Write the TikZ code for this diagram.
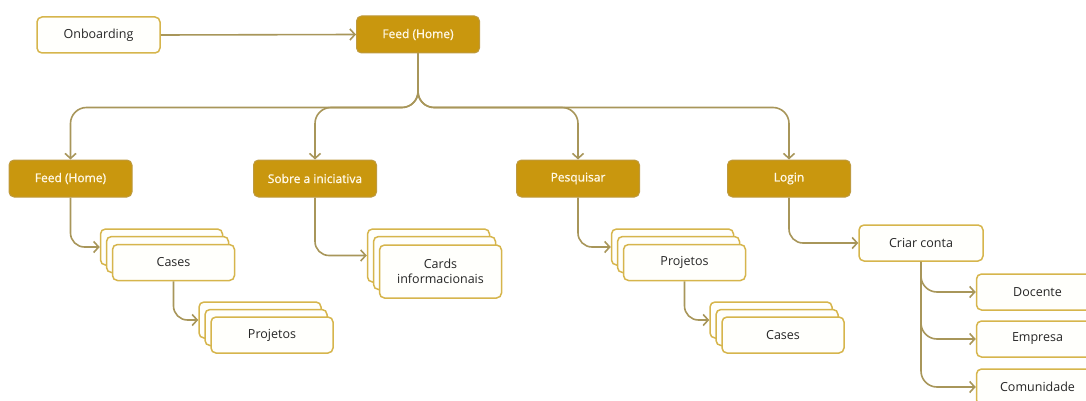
\documentclass[tikz,border=0pt]{standalone}
\usepackage{fontspec}
\setmainfont{Open Sans}
\newfontfamily\medfont{Open Sans}[FakeBold=1]
\usetikzlibrary{arrows.meta}

\definecolor{gold}{HTML}{C9970E}
\definecolor{goldedge}{HTML}{BE9A3E}
\definecolor{cardedge}{HTML}{D6B54C}
\definecolor{cardfill}{HTML}{FFFFFC}
\definecolor{wire}{HTML}{A8965A}
\definecolor{ink}{HTML}{262626}
\definecolor{paleink}{HTML}{FFF8E6}

\begin{document}
\begin{tikzpicture}[x=1pt,y=-1pt,
  solidbox/.style={draw=goldedge, line width=1pt, fill=gold, rounded corners=5pt,
    minimum width=123pt, minimum height=37pt, inner sep=0pt,
    text=paleink, font=\medfont\fontsize{12}{14}\selectfont},
  card/.style={draw=cardedge, line width=1.5pt, fill=cardfill, rounded corners=5pt,
    minimum width=122pt, minimum height=36pt, inner sep=0pt, align=center,
    text=ink, font=\fontsize{12.5}{15}\selectfont},
  tallcard/.style={card, minimum height=53pt},
  link/.style={draw=wire, line width=1.6pt, rounded corners=15pt,
    -{Straight Barb[length=5pt,width=11pt,line width=1.6pt]}}
]
\useasboundingbox (0,0) rectangle (1086,401);
\clip (0,0) rectangle (1086,401);

% top row
\node[card, minimum width=123pt] (onb) at (98.5,35) {Onboarding};
\node[solidbox] (home) at (418,34.5) {Feed (Home)};

% second row
\node[solidbox] (feed) at (70.5,178.5) {Feed (Home)};
\node[solidbox] (sobre) at (315,178.5) {Sobre a iniciativa};
\node[solidbox] (pesq) at (578,178.5) {Pesquisar};
\node[solidbox] (login) at (789,178.5) {Login};

% stacked cards under Feed (Home)
\node[card] (casesA3) at (161.5,247) {};
\node[card] (casesA2) at (167.5,254.5) {};
\node[card] (casesA) at (173.5,262.5) {Cases};
\node[card] (projA3) at (260,320) {};
\node[card] (projA2) at (266,327.5) {};
\node[card] (projA) at (272,335) {Projetos};

% stacked cards under Sobre a iniciativa
\node[tallcard] (info3) at (428.5,255.5) {};
\node[tallcard] (info2) at (434.5,263) {};
\node[tallcard] (info) at (440.5,271.5) {Cards\\informacionais};

% stacked cards under Pesquisar
\node[card] (projB3) at (672.5,247) {};
\node[card] (projB2) at (678.5,254.5) {};
\node[card] (projB) at (684.5,262.5) {Projetos};
\node[card] (casesB3) at (771,320) {};
\node[card] (casesB2) at (777,327.5) {};
\node[card] (casesB) at (783,335) {Cases};

% account branch
\node[card, minimum width=124pt] (criar) at (921,243) {Criar conta};
\node[card] (docente) at (1037.5,292) {Docente};
\node[card] (empresa) at (1037.5,339) {Empresa};
\node[card] (comunidade) at (1037.5,387) {Comunidade};

% connectors
\draw[link] (onb.east) -- (home.west);
\foreach \t in {feed,sobre,pesq,login}
  \draw[link, rounded corners=16pt] (home.south) -- ++(0,54) -| (\t.north);

\draw[link, rounded corners=14pt] (feed.south) |- (casesA3.west);
\draw[link, rounded corners=14pt] (casesA.south) |- (projA3.west);
\draw[link, rounded corners=14pt] (sobre.south) |- (info3.west);
\draw[link, rounded corners=14pt] (pesq.south) |- (projB3.west);
\draw[link, rounded corners=14pt] (projB.south) |- (casesB3.west);
\draw[link, rounded corners=14pt] (login.south) |- (criar.west);

\foreach \t in {docente,empresa,comunidade}
  \draw[link, rounded corners=16pt] (criar.south) |- (\t.west);
\end{tikzpicture}
\end{document}
